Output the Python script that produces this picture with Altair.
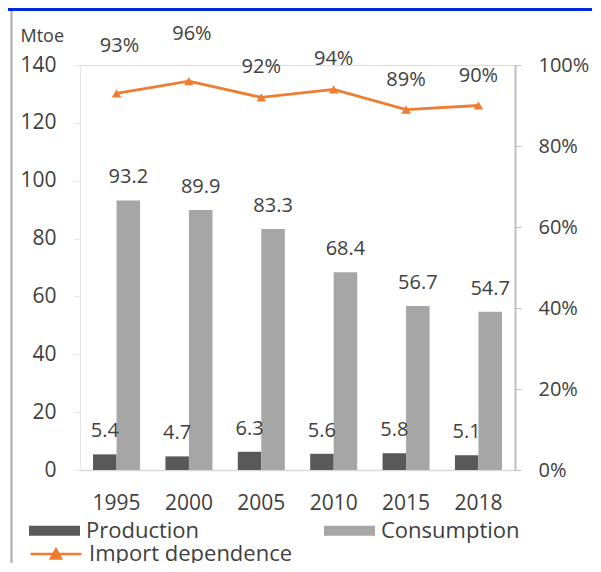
import altair as alt
import pandas as pd

years = ["1995", "2000", "2005", "2010", "2015", "2018"]
production = [5.4, 4.7, 6.3, 5.6, 5.8, 5.1]
consumption = [93.2, 89.9, 83.3, 68.4, 56.7, 54.7]
import_dependence = [0.93, 0.96, 0.92, 0.94, 0.89, 0.90]
series = ["Production", "Consumption"]
bar_colors = ["#595959", "#a6a6a6"]
line_label = "Import dependence"
line_color = "#ED7D31"
left_ticks = [0, 20, 40, 60, 80, 100, 120, 140]
right_ticks = [0, 0.2, 0.4, 0.6, 0.8, 1.0]
high_label_years = ["1995", "2000"]

FONT = "Open Sans"
TXT = "#404040"

bars_df = pd.DataFrame({
    "year": years * 2,
    "series": ["Production"] * len(years) + ["Consumption"] * len(years),
    "value": production + consumption,
})
line_df = pd.DataFrame({"year": years, "dep": import_dependence, "lbl": [line_label] * len(years)})
deco_df = pd.DataFrame({"k": [0]})

x_enc = alt.X(
    "year:N", sort=years,
    scale=alt.Scale(paddingInner=0.35, paddingOuter=0.18),
    axis=alt.Axis(title=None, labelAngle=0, labelFont=FONT, labelFontSize=21, labelColor=TXT,
                  ticks=False, tickSize=0, labelPadding=22, domainColor="#d9d9d9", domainWidth=1.5),
)
xoff = alt.XOffset("series:N", sort=series, scale=alt.Scale(paddingInner=0, paddingOuter=0))
y_bar = alt.Y(
    "value:Q", scale=alt.Scale(domain=[0, 140], nice=False),
    axis=alt.Axis(values=left_ticks, title="Mtoe", titleAngle=0, titleX=-60, titleY=-29,
                  titleAlign="left", titleBaseline="middle", titleFont=FONT, titleFontSize=18,
                  titleFontWeight="normal", titleColor=TXT, labelFont=FONT, labelFontSize=21,
                  labelColor=TXT, labelPadding=18, tickSize=6, tickColor="#e6e6e6",
                  domainColor="#e6e6e6", grid=False, orient="left"),
)

bars = alt.Chart(bars_df).mark_bar().encode(
    x=x_enc, xOffset=xoff, y=y_bar,
    color=alt.Color("series:N", sort=series,
                    scale=alt.Scale(domain=series, range=bar_colors),
                    legend=alt.Legend(title=None, orient="none", legendX=-51, legendY=440,
                                      direction="horizontal", columns=2, columnPadding=124,
                                      symbolType="M-1,-0.2L1,-0.2L1,0.2L-1,0.2Z", symbolSize=2601,
                                      symbolStrokeWidth=0, labelFont=FONT, labelFontSize=22,
                                      labelColor=TXT, labelOffset=6, labelLimit=300, padding=0)),
)
bar_labels = alt.Chart(bars_df).mark_text(dy=-23, baseline="middle", font=FONT, fontSize=20, color=TXT).encode(
    x=x_enc, xOffset=xoff, y=alt.Y("value:Q"), text=alt.Text("value:Q", format=".1f"),
)

y_dep = alt.Y(
    "dep:Q", scale=alt.Scale(domain=[0, 1], nice=False),
    axis=alt.Axis(values=right_ticks, format=".0%", title=None, orient="right",
                  labelFont=FONT, labelFontSize=20, labelColor=TXT, labelPadding=17,
                  tickSize=6, tickColor="#bfbfbf", domainColor="#bfbfbf", domainWidth=2, grid=False),
)
line = alt.Chart(line_df).mark_line(strokeWidth=2.8).encode(
    x=x_enc, y=y_dep,
    stroke=alt.Stroke("lbl:N", scale=alt.Scale(domain=[line_label], range=[line_color]),
                      legend=alt.Legend(title=None, orient="none", legendX=-51, legendY=462,
                                        symbolType="M-1,0L1,0M-0.2,0.18L0,-0.18L0.2,0.18Z",
                                        symbolSize=2601, symbolStrokeWidth=2.5,
                                        symbolFillColor=line_color, labelFont=FONT,
                                        labelFontSize=22, labelColor=TXT, labelOffset=6,
                                        labelLimit=300, padding=0)),
)
points = alt.Chart(line_df).mark_point(shape="triangle-up", filled=True, size=90, opacity=1,
                                       color=line_color).encode(x=x_enc, y=alt.Y("dep:Q"))
pct_hi = alt.Chart(line_df).transform_filter(
    alt.FieldOneOfPredicate(field="year", oneOf=high_label_years)
).mark_text(dy=-47, dx=3, baseline="middle", font=FONT, fontSize=20, color=TXT).encode(
    x=x_enc, y=alt.Y("dep:Q"), text=alt.Text("dep:Q", format=".0%"))
pct_lo = alt.Chart(line_df).transform_filter(
    ~alt.FieldOneOfPredicate(field="year", oneOf=high_label_years)
).mark_text(dy=-30, baseline="middle", font=FONT, fontSize=20, color=TXT).encode(
    x=x_enc, y=alt.Y("dep:Q"), text=alt.Text("dep:Q", format=".0%"))

top_band = alt.Chart(deco_df).mark_rule(color="#0028e0", strokeWidth=6).encode(
    x=alt.value(-72), x2=alt.value(520), y=alt.value(-57))
left_line = alt.Chart(deco_df).mark_rule(color="#a8a8a8", strokeWidth=2).encode(
    x=alt.value(-68.5), y=alt.value(-54), y2=alt.value(500))

chart = alt.layer(
    alt.layer(bars, bar_labels),
    alt.layer(line, points, pct_hi, pct_lo),
    top_band, left_line,
).resolve_scale(y="independent").properties(
    width=435, height=405,
    autosize=alt.AutoSizeParams(type="none"),
    padding={"left": 72, "top": 57, "right": 77, "bottom": 93},
).configure_view(stroke=None).configure(background="white")

chart.save("out.html", embed_options={"renderer": "svg", "actions": False})
